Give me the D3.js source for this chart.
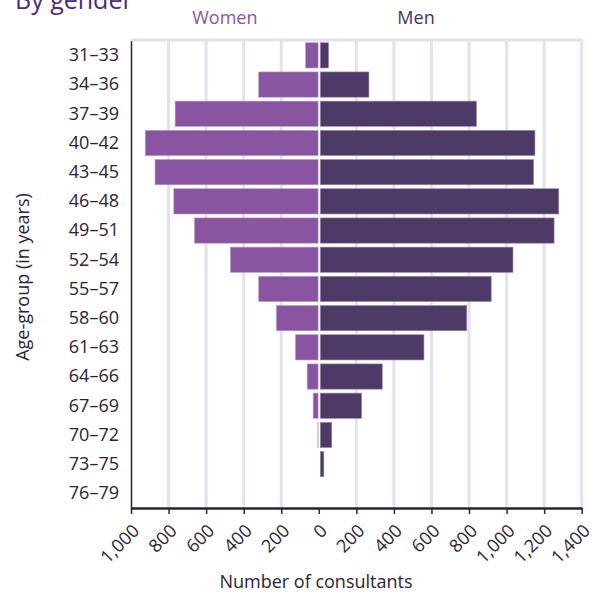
<!DOCTYPE html>
<html lang="en">
<head>
<meta charset="UTF-8">
<title>By gender</title>
<script src="https://d3js.org/d3.v7.min.js"></script>
<style>
    body { margin: 0; background: #fff; }
    svg { display: block; font-family: "Open Sans", sans-serif; }
    .tick text { fill: #2b2238; }
</style>
</head>
<body>
<svg width="601" height="594"></svg>
<script>
    const ageGroups = ["31–33", "34–36", "37–39", "40–42", "43–45", "46–48", "49–51", "52–54",
                       "55–57", "58–60", "61–63", "64–66", "67–69", "70–72", "73–75", "76–79"];
    const women = [70, 320, 765, 924, 872, 772, 662, 471, 320, 226, 124, 62, 30, 5, 0, 0];
    const men = [52, 267, 840, 1151, 1144, 1278, 1253, 1034, 918, 788, 560, 338, 228, 69, 27, 4];
    const xTicks = [-1000, -800, -600, -400, -200, 0, 200, 400, 600, 800, 1000, 1200, 1400];

    const data = ageGroups.map((g, i) => ({ group: g, women: women[i], men: men[i] }));

    const svg = d3.select("svg");
    const plot = { left: 131, right: 581.7, top: 40.7, bottom: 508 };

    const x = d3.scaleLinear().domain([-1000, 1400]).range([plot.left, plot.right]);
    const y = d3.scaleBand().domain(ageGroups).range([plot.top, plot.bottom]).paddingInner(0.135).paddingOuter(0.07);

    // title (clipped at top)
    svg.append("text")
        .attr("x", 15).attr("y", 9)
        .attr("font-size", 25)
        .attr("fill", "#4b2a7d")
        .text("By gender");

    // gridlines
    svg.append("g").selectAll("line")
        .data(xTicks.filter(d => d !== 0 && d !== -1000))
        .enter().append("line")
        .attr("x1", d => x(d)).attr("x2", d => x(d))
        .attr("y1", 39).attr("y2", plot.bottom)
        .attr("stroke", "#e7dfee")
        .attr("stroke-width", 3);

    svg.append("line")
        .attr("x1", plot.left).attr("x2", plot.right + 1.5)
        .attr("y1", 40).attr("y2", 40)
        .attr("stroke", "#e7dfee")
        .attr("stroke-width", 3);

    // bars
    svg.append("g").selectAll("rect")
        .data(data)
        .enter().append("rect")
        .attr("x", d => x(-d.women))
        .attr("y", d => y(d.group))
        .attr("width", d => Math.max(0, x(0) - x(-d.women) - 0.7))
        .attr("height", y.bandwidth())
        .attr("fill", "#8a55a0")
        .attr("stroke", "#b89cc6")
        .attr("stroke-width", 0.6);

    svg.append("g").selectAll("rect")
        .data(data)
        .enter().append("rect")
        .attr("x", x(0) + 1.5)
        .attr("y", d => y(d.group))
        .attr("width", d => Math.max(0, x(d.men) - x(0) - 1.5))
        .attr("height", y.bandwidth())
        .attr("fill", "#4d3a66")
        .attr("stroke", "#9c8bb0")
        .attr("stroke-width", 0.6);

    // y axis
    const yAxis = svg.append("g")
        .attr("transform", `translate(${plot.left},0)`)
        .call(d3.axisLeft(y).tickSize(0).tickPadding(12));
    yAxis.select(".domain").attr("stroke", "#2b2238").attr("stroke-width", 1.5);
    yAxis.selectAll("text").attr("font-size", 18).attr("font-family", "Open Sans");

    // x axis
    const xAxis = svg.append("g")
        .attr("transform", `translate(0,${plot.bottom})`)
        .call(d3.axisBottom(x).tickValues(xTicks).tickSize(6).tickSizeOuter(0)
            .tickFormat(d => d3.format(",")(Math.abs(d))));
    xAxis.select(".domain").attr("stroke", "#2b2238").attr("stroke-width", 2.5);
    xAxis.selectAll(".tick line").attr("stroke", "#2b2238").attr("stroke-width", 1.5);
    xAxis.selectAll("text")
        .attr("font-size", 18)
        .attr("font-family", "Open Sans")
        .attr("text-anchor", "end")
        .attr("y", 0).attr("dy", 0)
        .attr("transform", "translate(9,24) rotate(-45)");

    // series labels
    svg.append("text")
        .attr("x", (x(-1000) + x(0)) / 2).attr("y", 24)
        .attr("text-anchor", "middle")
        .attr("font-size", 18)
        .attr("fill", "#8a55a0")
        .text("Women");

    svg.append("text")
        .attr("x", 416).attr("y", 24)
        .attr("text-anchor", "middle")
        .attr("font-size", 18)
        .attr("fill", "#4a2e6e")
        .text("Men");

    // axis titles
    svg.append("text")
        .attr("x", 316).attr("y", 588)
        .attr("text-anchor", "middle")
        .attr("font-size", 18)
        .attr("fill", "#2b2238")
        .text("Number of consultants");

    svg.append("text")
        .attr("transform", "translate(29,277) rotate(-90)")
        .attr("text-anchor", "middle")
        .attr("font-size", 18)
        .attr("fill", "#2b2238")
        .text("Age-group (in years)");
</script>
</body>
</html>
